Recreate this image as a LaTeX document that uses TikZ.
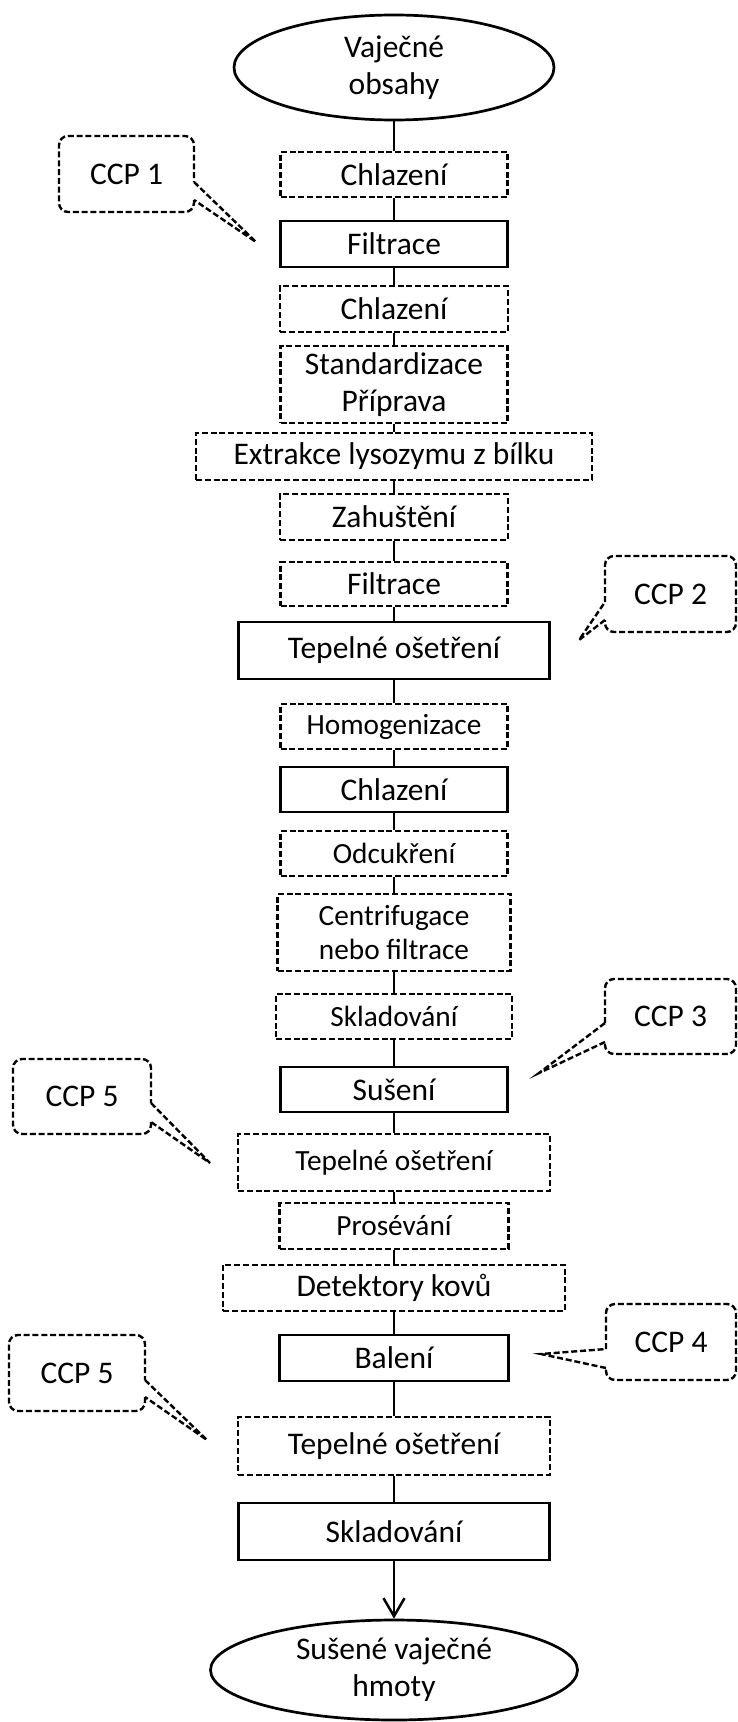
\documentclass[tikz,border=0pt]{standalone}
\usepackage{fontspec}
\setmainfont{Carlito}
\usetikzlibrary{shapes.geometric,arrows.meta}

% callout outlines: box x1,y1,x2,y2; tail attached between ya and yb; tip coordinate
\newcommand{\ccpright}[7]{%
  \draw[ccp, rounded corners=4.5pt] (#3,#6) -- (#3,#4) -- (#1,#4) -- (#1,#2) -- (#3,#2) -- (#3,#5);
  \draw[ccp] (#3,#5) -- (#7) -- (#3,#6);}
\newcommand{\ccpleft}[7]{%
  \draw[ccp, rounded corners=4.5pt] (#1,#5) -- (#1,#2) -- (#3,#2) -- (#3,#4) -- (#1,#4) -- (#1,#6);
  \draw[ccp] (#1,#6) -- (#7) -- (#1,#5);}

\begin{document}
\begin{tikzpicture}[x=0.5pt,y=-0.5pt,
  big/.style={font=\fontsize{15.75}{18.5}\selectfont},
  small/.style={font=\fontsize{14.65}{17}\selectfont},
  sbox/.style n args={2}{draw, line width=1.35pt, rectangle, inner sep=0pt, align=center,
    minimum width=#1*0.5pt, minimum height=#2*0.5pt},
  dbox/.style n args={2}{sbox={#1}{#2}, line width=1.2pt, dash pattern=on 3pt off 1.4pt},
  terminal/.style n args={2}{draw, ellipse, line width=1.35pt, inner sep=0pt, align=center,
    minimum width=#1*0.5pt, minimum height=#2*0.5pt},
  ccp/.style={line width=1.2pt, dash pattern=on 3pt off 1.4pt},
  flow/.style={line width=1.25pt},
  ccptext/.style={big, inner sep=0pt}
]
\useasboundingbox (0,0) rectangle (738,1722);

% process column
\node[terminal={320}{105}, big] (eggs) at (394,67.5) {Vaječné\\obsahy};
\node[dbox={227}{45}, big]  (chl1) at (394,174.5) {Chlazení};
\node[sbox={227}{46}, big]  (fil1) at (394,244) {Filtrace};
\node[dbox={228}{46}, big]  (chl2) at (394,309) {Chlazení};
\node[dbox={227}{77}, big]  (std)  at (394,384.5) {Standardizace\\Příprava};
\node[dbox={396}{47}, big]  (ext)  at (394,456.5) {Extrakce lysozymu z bílku};
\node[dbox={228}{46}, big]  (zah)  at (394,517) {Zahuštění};
\node[dbox={227}{44}, big]  (fil2) at (394,584) {Filtrace};
\node[sbox={311}{57}, big]  (tep1) at (394,650.5) {Tepelné ošetření};
\node[dbox={227}{45}, small] (hom) at (394,726.5) {Homogenizace};
\node[sbox={227}{45}, big]  (chl3) at (394,789.5) {Chlazení};
\node[dbox={227}{45}, small] (odc) at (394,853.5) {Odcukření};
\node[dbox={233}{77}, small] (cen) at (394,932.5) {Centrifugace\\nebo filtrace};
\node[dbox={236}{45}, small] (skl1) at (394,1016.5) {Skladování};
\node[sbox={227}{45}, big]  (sus)  at (394,1089.5) {Sušení};
\node[dbox={312}{57}, small] (tep2) at (394,1162.5) {Tepelné ošetření};
\node[dbox={229}{46}, small] (pro) at (394,1226) {Prosévání};
\node[dbox={342}{46}, big]  (det)  at (394,1288) {Detektory kovů};
\node[sbox={229}{46}, big]  (bal)  at (394,1358) {Balení};
\node[dbox={312}{58}, big]  (tep3) at (394,1446) {Tepelné ošetření};
\node[sbox={311}{57}, big]  (skl2) at (394,1531.5) {Skladování};
\node[terminal={367}{100}, big] (product) at (394,1670) {Sušené vaječné\\hmoty};

% connectors
\foreach \a/\b in {eggs/chl1, chl1/fil1, fil1/chl2, chl2/std, std/ext, ext/zah, zah/fil2,
  fil2/tep1, tep1/hom, hom/chl3, chl3/odc, odc/cen, cen/skl1, skl1/sus, sus/tep2,
  tep2/pro, pro/det, det/bal, bal/tep3, tep3/skl2}
  \draw[flow] (\a.south) -- (\b.north);
\draw[flow, -{Straight Barb[length=9pt, width=10.5pt]}] (skl2.south) -- (product.north);

% critical control points
\node[ccptext] (ccp1)  at (126.5,174)  {CCP 1};
\node[ccptext] (ccp2)  at (670.5,594)  {CCP 2};
\node[ccptext] (ccp3)  at (670.5,1016.5) {CCP 3};
\node[ccptext] (ccp5a) at (82,1096.5)  {CCP 5};
\node[ccptext] (ccp4)  at (671,1342)   {CCP 4};
\node[ccptext] (ccp5b) at (77,1373)    {CCP 5};

\coordinate (tip1)  at (256,242);
\coordinate (tip2)  at (579,640);
\coordinate (tip3)  at (539,1073);
\coordinate (tip5a) at (210,1163);
\coordinate (tip4)  at (541,1354);
\coordinate (tip5b) at (207,1440);

\ccpright{59}{136}{194}{212}{182}{200}{tip1}
\ccpleft{605}{556}{736}{632}{602}{620}{tip2}
\ccpleft{605}{979}{736}{1054}{1023}{1042}{tip3}
\ccpright{13}{1059}{151}{1134}{1103}{1122}{tip5a}
\ccpleft{606}{1304}{736}{1380}{1349}{1368}{tip4}
\ccpright{9}{1335}{145}{1411}{1380}{1397}{tip5b}
\end{tikzpicture}
\end{document}
